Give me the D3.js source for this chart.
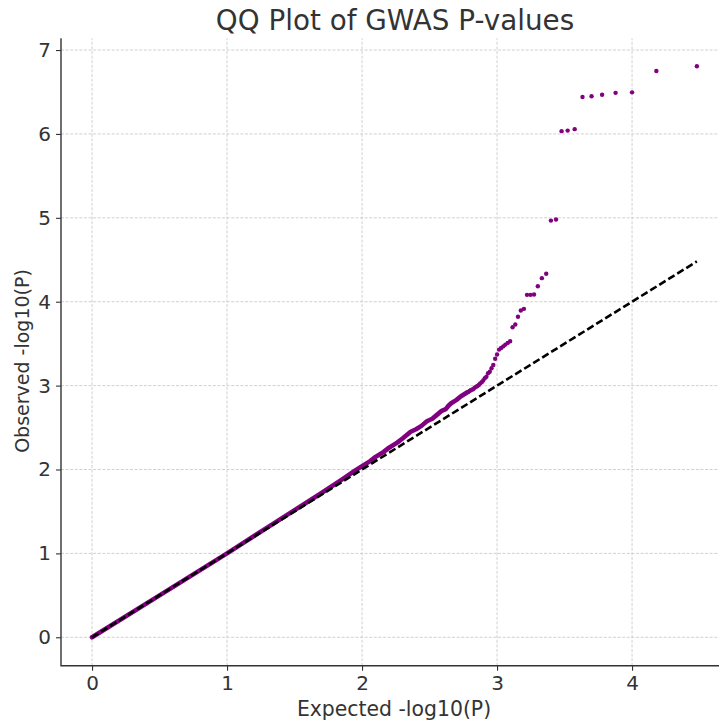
<!DOCTYPE html>
<html>
<head>
<meta charset="utf-8">
<script src="https://cdn.jsdelivr.net/npm/d3@7"></script>
<style>
  body { margin: 0; background: #fff; }
  svg { display: block; font-family: "DejaVu Sans", sans-serif; }
</style>
</head>
<body>
<svg id="qq-plot"></svg>
<script>
// tick values
let xTicks = [0, 1, 2, 3, 4]
let yTicks = [0, 1, 2, 3, 4, 5, 6, 7]

// bulk of the points (dense, drawn as a thick band)
let bulkExpected = [0, 0.5, 1.0, 1.3, 1.5, 1.7, 1.85, 1.95, 2.0, 2.06, 2.1, 2.16, 2.2, 2.26, 2.3, 2.36, 2.4, 2.44, 2.48, 2.52, 2.55, 2.59, 2.62, 2.64, 2.66, 2.7, 2.73, 2.78]
let bulkObserved = [0, 0.5, 1.0, 1.31, 1.515, 1.72, 1.88, 1.99, 2.04, 2.1, 2.15, 2.21, 2.26, 2.32, 2.37, 2.45, 2.48, 2.52, 2.575, 2.605, 2.645, 2.7, 2.72, 2.76, 2.79, 2.83, 2.87, 2.92]

// tail points (top ranked SNPs)
let tailExpected = [4.48, 4.18, 4.0, 3.878, 3.778, 3.7, 3.633, 3.575, 3.523, 3.478, 3.437, 3.399, 3.364, 3.332, 3.302,
    3.274, 3.248, 3.222, 3.199, 3.176, 3.155, 3.135, 3.115, 3.097, 3.079, 3.062, 3.046, 3.03, 3.015, 3.0,
    2.986, 2.972, 2.959, 2.946, 2.933, 2.921, 2.909, 2.897, 2.886, 2.875, 2.865, 2.854, 2.844, 2.834, 2.824,
    2.814, 2.805, 2.796, 2.787]
let tailObserved = [6.807, 6.75, 6.496, 6.49, 6.467, 6.45, 6.44, 6.057, 6.04, 6.033, 4.98, 4.967, 4.333, 4.281, 4.185,
    4.086, 4.082, 4.082, 3.915, 3.895, 3.82, 3.728, 3.695, 3.528, 3.509, 3.489, 3.468, 3.449, 3.429, 3.37,
    3.32, 3.245, 3.206, 3.166, 3.147, 3.106, 3.087, 3.06, 3.04, 3.027, 3.007, 2.995, 2.985, 2.975, 2.96,
    2.952, 2.945, 2.935, 2.925]

let diagonal = [0, 4.48]

let width = 719
let height = 722

let svg = d3.select('#qq-plot')
    .attr('width', width)
    .attr('height', height)

// SCALES
let x = d3.scaleLinear()
    .domain([-0.23, 4.644])
    .range([61, 719])
let y = d3.scaleLinear()
    .domain([-0.34, 7.14])
    .range([665.8, 38.3])

// GRID
let grid = svg.append('g')
grid.selectAll('line.gx')
    .data(xTicks)
    .join('line')
    .attr('x1', d => x(d)).attr('x2', d => x(d))
    .attr('y1', y.range()[0]).attr('y2', y.range()[1])
grid.selectAll('line.gy')
    .data(yTicks)
    .join('line')
    .attr('y1', d => y(d)).attr('y2', d => y(d))
    .attr('x1', x.range()[0]).attr('x2', x.range()[1])
grid.selectAll('line')
    .attr('stroke', '#cccccc')
    .attr('stroke-width', 0.9)
    .attr('stroke-dasharray', '3,1.6')

// BULK POINTS
let bulk = bulkExpected.map((e, i) => [e, bulkObserved[i]])
svg.append('path')
    .datum(bulk)
    .attr('d', d3.line().x(d => x(d[0])).y(d => y(d[1])))
    .attr('fill', 'none')
    .attr('stroke', '#800080')
    .attr('stroke-width', 4.6)
    .attr('stroke-linecap', 'round')
    .attr('stroke-linejoin', 'round')

// TAIL POINTS
svg.append('g')
    .selectAll('circle')
    .data(tailExpected.map((e, i) => [e, tailObserved[i]]))
    .join('circle')
    .attr('cx', d => x(d[0]))
    .attr('cy', d => y(d[1]))
    .attr('r', 2.2)
    .attr('fill', '#800080')

// DIAGONAL
svg.append('line')
    .attr('x1', x(diagonal[0])).attr('y1', y(diagonal[0]))
    .attr('x2', x(diagonal[1])).attr('y2', y(diagonal[1]))
    .attr('stroke', '#000')
    .attr('stroke-width', 2.6)
    .attr('stroke-dasharray', '7.4,3.2')

// AXES
let xAxis = svg.append('g')
    .attr('transform', `translate(0, ${y.range()[0]})`)
    .call(d3.axisBottom(x).tickValues(xTicks).tickFormat(d3.format('d')).tickSizeOuter(0).tickSize(5).tickPadding(5))
let yAxis = svg.append('g')
    .attr('transform', `translate(${x.range()[0]}, 0)`)
    .call(d3.axisLeft(y).tickValues(yTicks).tickFormat(d3.format('d')).tickSizeOuter(0).tickSize(5).tickPadding(5))

svg.selectAll('.domain').remove()
svg.selectAll('.tick line').attr('stroke', '#333').attr('stroke-width', 1.1)
svg.selectAll('.tick text')
    .attr('fill', '#333')
    .attr('font-size', 20)
    .attr('font-family', '"DejaVu Sans", sans-serif')

// SPINES
svg.append('path')
    .attr('d', `M${x.range()[0]},${y.range()[1]}V${y.range()[0]}H${x.range()[1]}`)
    .attr('fill', 'none')
    .attr('stroke', '#333')
    .attr('stroke-width', 1.4)

// TITLE
svg.append('text')
    .attr('x', 395)
    .attr('y', 30)
    .attr('text-anchor', 'middle')
    .attr('fill', '#333')
    .attr('font-size', 27.8)
    .text('QQ Plot of GWAS P-values')

// AXIS LABELS
svg.append('text')
    .attr('x', 394)
    .attr('y', 716)
    .attr('text-anchor', 'middle')
    .attr('fill', '#333')
    .attr('font-size', 20.4)
    .text('Expected -log10(P)')

svg.append('text')
    .attr('transform', `translate(29, 361) rotate(-90)`)
    .attr('text-anchor', 'middle')
    .attr('fill', '#333')
    .attr('font-size', 19)
    .text('Observed -log10(P)')
</script>
</body>
</html>
